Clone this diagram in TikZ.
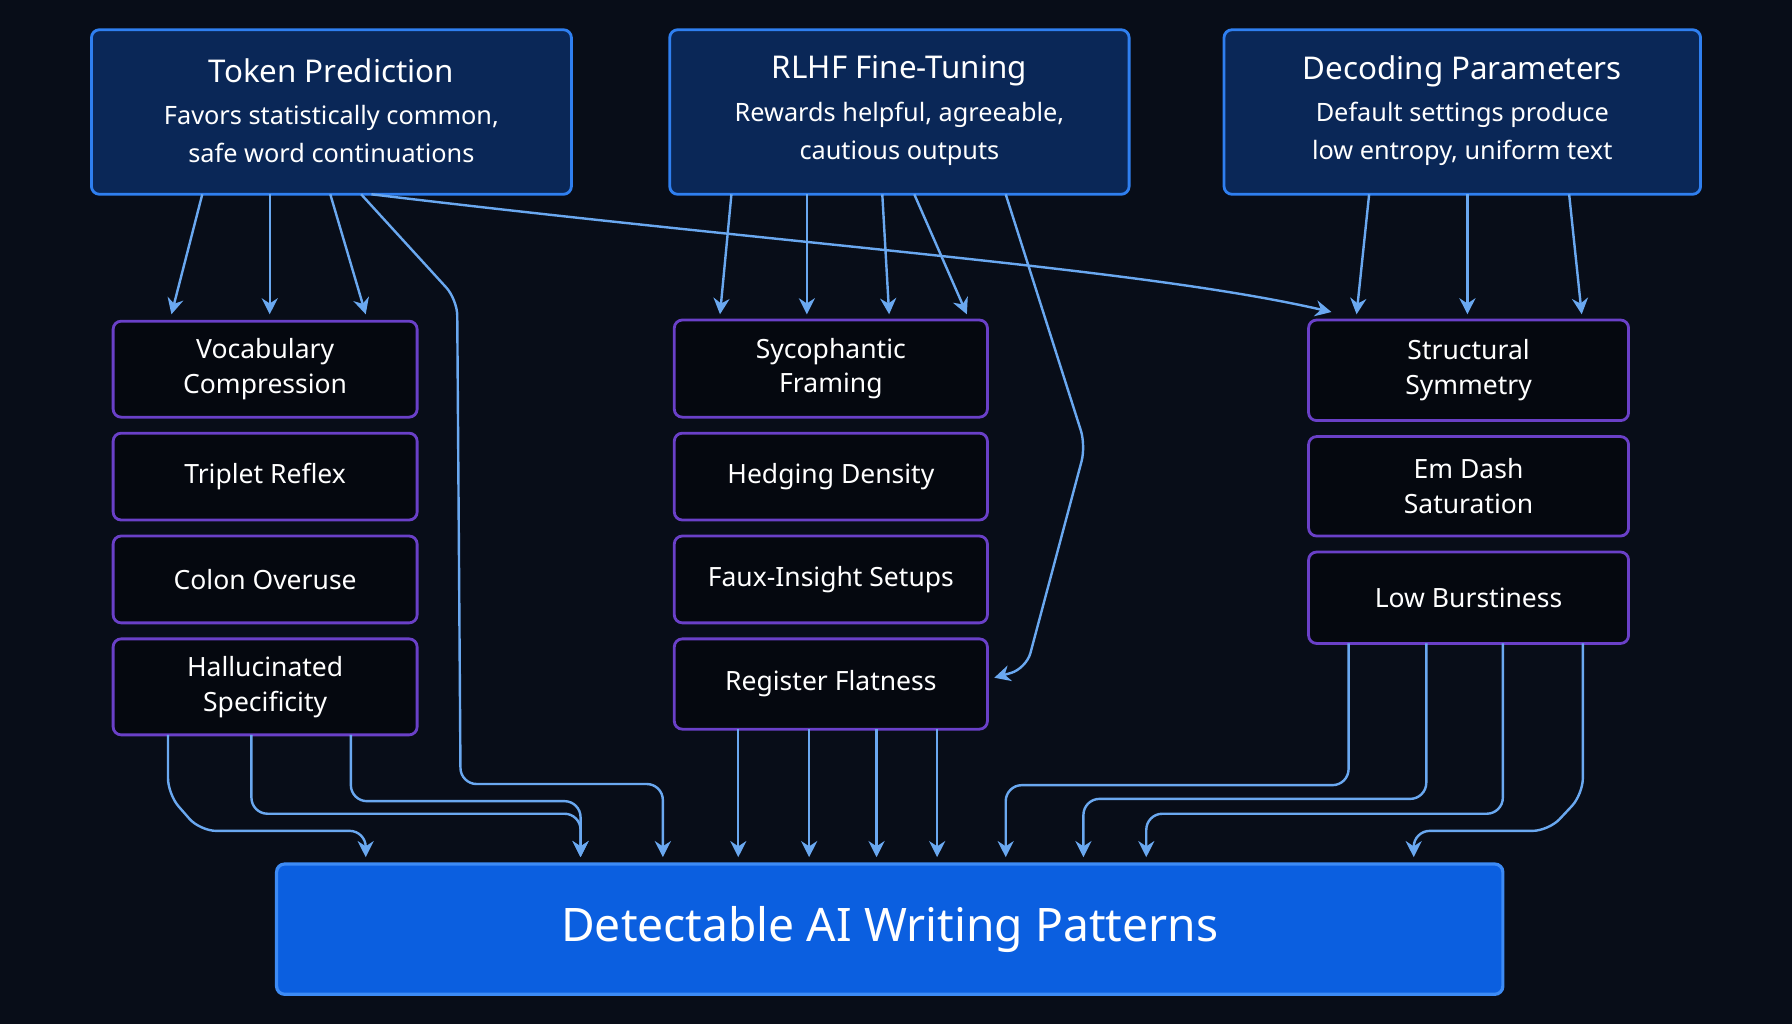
\documentclass[tikz,border=0pt]{standalone}
\usepackage{fontspec}
\setmainfont{Noto Sans}
\usetikzlibrary{arrows.meta}
\definecolor{bg}{HTML}{080D18}
\definecolor{topfill}{HTML}{0A2757}
\definecolor{topedge}{HTML}{2F7FF0}
\definecolor{midfill}{HTML}{05080F}
\definecolor{midedge}{HTML}{6A40C8}
\definecolor{botfill}{HTML}{0B5FE0}
\definecolor{botedge}{HTML}{3D8BF5}
\definecolor{arr}{HTML}{6AA8F0}
\tikzset{
 topbox/.style={draw=topedge,fill=topfill,line width=0.7pt,rounded corners=2pt,text=white,align=center,minimum height=14.4mm,inner sep=0pt},
 midbox/.style={draw=midedge,fill=midfill,line width=0.7pt,rounded corners=2pt,text=white,align=center,inner sep=0pt,font=\fontsize{6.6}{8.6}\selectfont\bfseries},
 ttl/.style={font=\fontsize{7.8}{10}\selectfont\bfseries},
 conn/.style={draw=arr,line width=0.6pt,rounded corners=4pt,-{Stealth[length=4pt,width=4pt]}}
}
\begin{document}
\begin{tikzpicture}[x=0.1mm,y=-0.1mm]
\fill[bg] (0,0) rectangle (1568,896);
\useasboundingbox (0,0) rectangle (1568,896);
\node[topbox,minimum width=42mm] (tp) at (290,98) {};
\node[ttl,text=white] (tpt) at (290,62) {Token Prediction};
\node[text=white,align=center,font=\fontsize{6.3}{9.5}\selectfont] (tps) at (290,117) {Favors statistically common,\\safe word continuations};
\node[topbox,minimum width=40.2mm] (rl) at (787,98) {};
\node[ttl,text=white] (rlt) at (787,62) {RLHF Fine-Tuning};
\node[text=white,align=center,font=\fontsize{6.3}{9.5}\selectfont] (rls) at (787,117) {Rewards helpful, agreeable,\\cautious outputs};
\node[topbox,minimum width=41.7mm] (dp) at (1279.5,98) {};
\node[ttl,text=white] (dpt) at (1279.5,62) {Decoding Parameters};
\node[text=white,align=center,font=\fontsize{6.3}{9.5}\selectfont] (dps) at (1279.5,117) {Default settings produce\\low entropy, uniform text};
% left column
\node[midbox,minimum width=26.6mm,minimum height=8.4mm] (vc) at (232,323) {Vocabulary\\Compression};
\node[midbox,minimum width=26.6mm,minimum height=7.6mm] (tr) at (232,417) {Triplet Reflex};
\node[midbox,minimum width=26.6mm,minimum height=7.6mm] (co) at (232,507) {Colon Overuse};
\node[midbox,minimum width=26.6mm,minimum height=8.4mm] (hs) at (232,601) {Hallucinated\\Specificity};
% middle column
\node[midbox,minimum width=27.4mm,minimum height=8.5mm] (sf) at (727,322.5) {Sycophantic\\Framing};
\node[midbox,minimum width=27.4mm,minimum height=7.6mm] (hd) at (727,417) {Hedging Density};
\node[midbox,minimum width=27.4mm,minimum height=7.6mm] (fi) at (727,507) {Faux-Insight Setups};
\node[midbox,minimum width=27.4mm,minimum height=7.9mm] (rf) at (727,598.5) {Register Flatness};
% right column
\node[midbox,minimum width=28mm,minimum height=8.8mm] (ss) at (1285,324) {Structural\\Symmetry};
\node[midbox,minimum width=28mm,minimum height=8.7mm] (ed) at (1285,425.5) {Em Dash\\Saturation};
\node[midbox,minimum width=28mm,minimum height=8mm] (lb) at (1285,523) {Low Burstiness};
% bottom
\node[draw=botedge,fill=botfill,line width=0.8pt,rounded corners=2pt,minimum width=107.3mm,minimum height=11.4mm,text=white,font=\fontsize{11.5}{14}\selectfont\bfseries] (out) at (778.5,813) {Detectable AI Writing Patterns};
% top to middle
\draw[conn] (177,170) -- (150,275);
\draw[conn] (236,170) -- (236,275);
\draw[conn] (289,170) -- (320,275);
\draw[conn] (316,170) -- (400,262) -- (403,686) -- (580,686) -- (580,750);
\draw[conn] (325,170) .. controls (700,215) and (1000,235) .. (1165,273);
\draw[conn] (640,170) -- (630,275);
\draw[conn] (706,170) -- (706,275);
\draw[conn] (772,170) -- (778,275);
\draw[conn] (800,170) -- (846,275);
\draw[conn] (880,170) -- (950,390) -- (898,585) -- (870,593);
\draw[conn] (1198,170) -- (1187,275);
\draw[conn] (1284,170) -- (1284,275);
\draw[conn] (1373,170) -- (1384,275);
% middle to bottom
\draw[conn] (147,643) -- (147,695) -- (175,727) -- (320,727) -- (320,750);
\draw[conn] (220,643) -- (220,712) -- (508,712) -- (508,750);
\draw[conn] (307,643) -- (307,701) -- (508,701) -- (508,750);
\draw[conn] (646,638) -- (646,750);
\draw[conn] (708,638) -- (708,750);
\draw[conn] (767,638) -- (767,750);
\draw[conn] (820,638) -- (820,750);
\draw[conn] (1180,563) -- (1180,687) -- (880,687) -- (880,750);
\draw[conn] (1248,563) -- (1248,699) -- (948,699) -- (948,750);
\draw[conn] (1315,563) -- (1315,712) -- (1003,712) -- (1003,750);
\draw[conn] (1385,563) -- (1385,695) -- (1355,727) -- (1237,727) -- (1237,750);
\end{tikzpicture}
\end{document}
